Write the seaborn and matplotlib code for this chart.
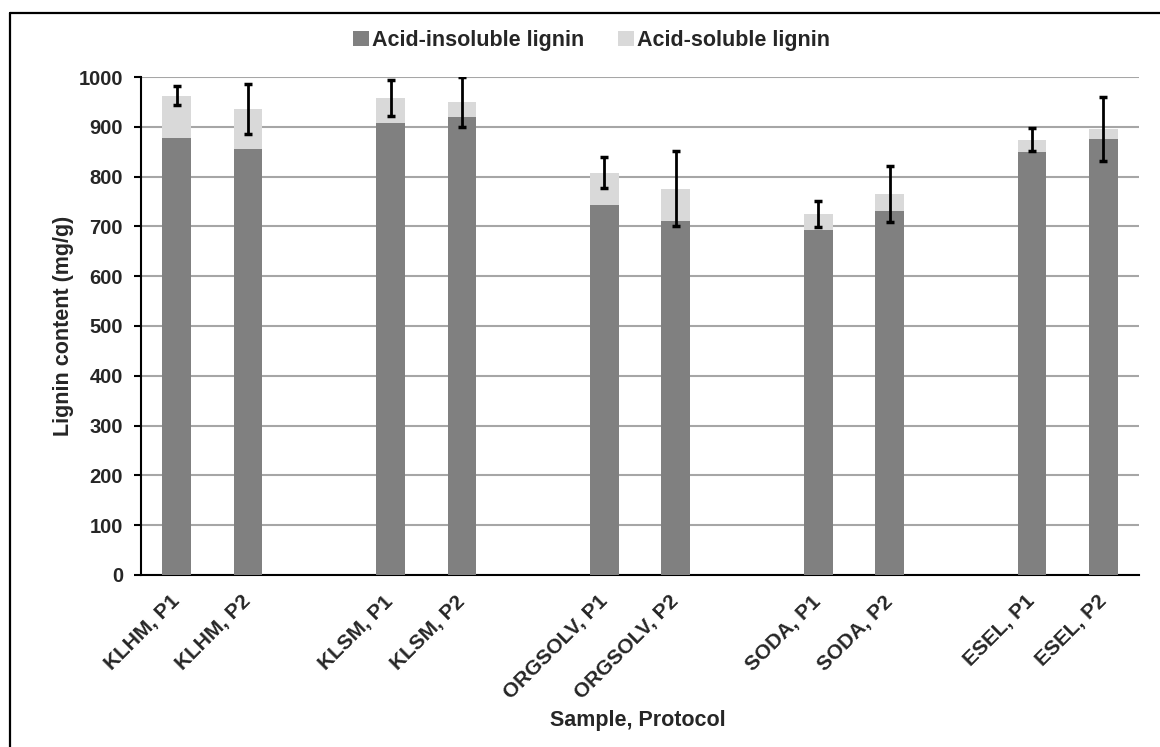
import numpy as np
import pandas as pd
import matplotlib
matplotlib.use("Agg")
import matplotlib.pyplot as plt
from matplotlib.patches import Patch
from matplotlib.lines import Line2D
import seaborn as sns

# ─────────────────────────────────────────────
# Data (mg/g)
# ─────────────────────────────────────────────
samples   = ["KLHM, P1", "KLHM, P2", "KLSM, P1", "KLSM, P2",
             "ORGSOLV, P1", "ORGSOLV, P2", "SODA, P1", "SODA, P2",
             "ESEL, P1", "ESEL, P2"]
insoluble = [877, 856, 908, 920, 742, 711, 693, 730, 849, 876]
soluble   = [85, 79, 50, 30, 66, 65, 32, 35, 25, 19]
errors    = [19, 50, 36, 51, 31, 76, 26, 57, 23, 64]

# category order with empty slots between the sample groups
order = ["KLHM, P1", "KLHM, P2", " ",
         "KLSM, P1", "KLSM, P2", "  ",
         "ORGSOLV, P1", "ORGSOLV, P2", "   ",
         "SODA, P1", "SODA, P2", "    ",
         "ESEL, P1", "ESEL, P2"]

DARK  = "#808080"
LIGHT = "#d9d9d9"

df = pd.DataFrame({"sample": samples, "insoluble": insoluble, "soluble": soluble, "err": errors})
df["total"] = df["insoluble"] + df["soluble"]

sns.set_style("white")
plt.rcParams["font.family"] = ["Liberation Sans", "DejaVu Sans"]
plt.rcParams["font.weight"] = "bold"

fig = plt.figure(figsize=(11.6, 7.47), dpi=100)
ax = fig.add_axes([0.1216, 0.2303, 0.8604, 0.6666])

# stacked bars: total (light) with insoluble part (dark) drawn over it
sns.barplot(data=df, x="sample", y="total", order=order, color=LIGHT,
            width=0.4, saturation=1, errorbar=None, ax=ax, zorder=2)
sns.barplot(data=df, x="sample", y="insoluble", order=order, color=DARK,
            width=0.4, saturation=1, errorbar=None, ax=ax, zorder=3)
for p in ax.patches:
    p.set_edgecolor("none")

xpos = [order.index(s) for s in df["sample"]]
ax.errorbar(xpos, df["total"], yerr=df["err"], fmt="none", ecolor="black",
            elinewidth=2, capsize=3, capthick=2.5, zorder=4)

ax.set_xlim(-0.5, len(order) - 0.5)
ax.set_ylim(0, 1000)
ax.set_yticks(np.arange(0, 1001, 100))
ax.yaxis.grid(True, color="#a6a6a6", linewidth=1.5, zorder=0)
ax.set_axisbelow(True)

# labels at bar centres, tick marks at slot boundaries
ax.set_xticks(range(len(order)))
ax.set_xticklabels([s if s.strip() else "" for s in order],
                   rotation=45, ha="right", va="center", rotation_mode="anchor",
                   fontsize=15, fontweight="bold")
ax.set_xticks(np.arange(-0.5, len(order), 1), minor=True)
ax.tick_params(axis="x", which="major", length=0, pad=17)
ax.tick_params(axis="x", which="minor", length=6, width=1.5, direction="out", color="black")
ax.tick_params(axis="y", length=5, width=1.5, direction="out", color="black",
               labelsize=14.5, left=True, pad=8)
for lab in ax.get_yticklabels():
    lab.set_fontweight("bold")

for side in ["top", "right"]:
    ax.spines[side].set_visible(False)
for side in ["left", "bottom"]:
    ax.spines[side].set_linewidth(1.5)
    ax.spines[side].set_color("black")

ax.set_ylabel("Lignin content (mg/g)", fontsize=15.5, fontweight="bold", labelpad=3)
ax.set_xlabel("")
fig.text(0.55, 0.036, "Sample, Protocol", ha="center", va="center",
         fontsize=15.5, fontweight="bold")

handles = [Patch(facecolor=DARK, edgecolor="none", label="Acid-insoluble lignin"),
           Patch(facecolor=LIGHT, edgecolor="none", label="Acid-soluble lignin")]
fig.legend(handles=handles, loc="center", bbox_to_anchor=(0.51, 0.946), ncol=2,
           frameon=False, handlelength=0.7, handleheight=0.7, handletextpad=0.15,
           columnspacing=1.6, prop={"size": 15.5, "weight": "bold"})

# frame around the chart area (only top and left edges fall inside the image)
fig.add_artist(Line2D([0.0086, 1.0], [0.9826, 0.9826], transform=fig.transFigure,
                      color="black", linewidth=1.6))
fig.add_artist(Line2D([0.0086, 0.0086], [0.0, 0.9826], transform=fig.transFigure,
                      color="black", linewidth=1.6))

fig.savefig("out.png", dpi=100)
